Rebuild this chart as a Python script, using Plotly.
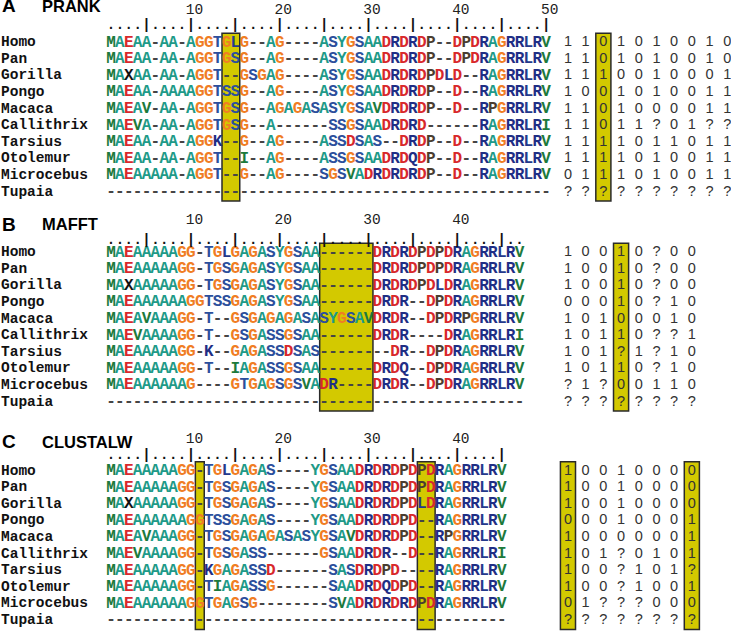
import plotly.graph_objects as go

# ---------------- data ----------------
species = ["Homo", "Pan", "Gorilla", "Pongo", "Macaca", "Callithrix",
           "Tarsius", "Otolemur", "Microcebus", "Tupaia"]

prank_seqs = [
    "MAEAA-AA-AGGTGLG--AG----ASYGSAADRDRDP--DPDRAGRRLRV",
    "MAEAA-AA-AGGTGSG--AG----ASYGSAADRDRDP--DPDRAGRRLRV",
    "MAXAA-AA-AGGT--GSGAG----ASYGSAADRDRDPDLD--RAGRRLRV",
    "MAEAA-AAAAGGTSSG--AG----ASYGSAADRDRDP--D--RAGRRLRV",
    "MAEAV-AA-AGGTGSG--AGAGASASYGSAVDRDRDP--D--RPGRRLRV",
    "MAEVA-AA-AGGTGSG--A------SSGSAADRDRD------RAGRRLRI",
    "MAEAA-AA-AGGK--G--AG----ASSDSAS--DRDP--D--RAGRRLRV",
    "MAEAA-AA-AGGT--I--AG----ASSGSAADRDQDP--D--RAGRRLRV",
    "MAEAAAAA-AGGT--G--AG----SGSVADRDRDRDP--D--RAGRRLRV",
    "-" * 50,
]
prank_bits = ["1101010010", "1101010010", "1110010001", "1001010011",
              "1101000011", "11011?01??", "1111011011", "1111010011",
              "0111010011", "??????????"]

mafft_seqs = [
    "MAEAAAAAGG-TGLGAGASYGSAA------DRDRDPDPDRAGRRLRV",
    "MAEAAAAAGG-TGSGAGASYGSAA------DRDRDPDPDRAGRRLRV",
    "MAXAAAAAGG-TGSGAGASYGSAA------DRDRDPDLDRAGRRLRV",
    "MAEAAAAAAGGTSSGAGASYGSAA------DRDR--DPDRAGRRLRV",
    "MAEAVAAAGG-T--GSGAGAGASASYGSAVDRDR--DPDRPGRRLRV",
    "MAEVAAAAGG-T--GSGASSGSAA------DRDR----DRAGRRLRI",
    "MAEAAAAAGG-K--GAGASSDSAS--------DR--DPDRAGRRLRV",
    "MAEAAAAAGG-T--IAGASSGSAA------DRDQ--DPDRAGRRLRV",
    "MAEAAAAAAG----GTGAGSGSVADR----DRDR--DPDRAGRRLRV",
    "-" * 47,
]
mafft_bits = ["10010?00", "10010?00", "10010?00", "00010?10",
              "10100010", "10110??1", "101?1?10", "10110?10",
              "?1?00110", "????????"]

clustal_seqs = [
    "MAEAAAAAGG-TGLGAGAS----YGSAADRDRDPDPDRAGRRLRV",
    "MAEAAAAAGG-TGSGAGAS----YGSAADRDRDPDPDRAGRRLRV",
    "MAXAAAAAGG-TGSGAGAS----YGSAADRDRDPDLDRAGRRLRV",
    "MAEAAAAAAGGTSSGAGAS----YGSAADRDRDPD--RAGRRLRV",
    "MAEAVAAAGG-TGSGAGAGASASYGSAVDRDRDPD--RPGRRLRV",
    "MAEVAAAAGG-TGSGASS------GSAADRDR--D--RAGRRLRI",
    "MAEAAAAAGG-KGAGASSD------SASDRDPD----RAGRRLRV",
    "MAEAAAAAGG-TIAGASSG------SAADRDQDPD--RAGRRLRV",
    "MAEAAAAAAGGTGAGSG--------SVADRDRDRDPDRAGRRLRV",
    "-" * 45,
]
clustal_bits = ["10010000", "10010000", "10010000", "00010001",
                "10000001", "101?0101", "100?101?", "100?1001",
                "01???000", "????????"]

panel_letters = ["A", "B", "C"]
method_names = ["PRANK", "MAFFT", "CLUSTALW"]
ruler_lengths = [50, 47, 45]
seq_highlights = [[(14, 15)], [(25, 30)], [(11, 11), (36, 37)]]
bit_highlights = [[3], [4], [1, 8]]

# ---------------- layout constants ----------------
W, H = 731, 631
PX_COL = 8.88          # pixels per alignment column
COL1_PX = 111.0        # pixel x of column 1
ROW_H = 16.6
BIN_X0 = 52.46         # column units of first binary digit
BIN_STEP = 1.993
panel_row0 = [42.5, 252.5, 471.0]
panel_ruler = [25.5, 240.0, 455.0]
panel_ticklab = [10.5, 220.0, 439.0]
panel_title = [7.5, 226.0, 443.5]

x_min = 1 - COL1_PX / PX_COL
x_max = x_min + W / PX_COL


def px_to_col(px):
    return x_min + px / PX_COL


COLORS = {
    'M': '#1d7a3c', 'V': '#1d7a3c', 'I': '#1d7a3c',
    'L': '#24398c',
    'A': '#1e9a88', 'Y': '#1e9a88',
    'E': '#d8282b', 'D': '#d8282b',
    'G': '#f07d24',
    'S': '#2c4f9c', 'T': '#2c4f9c', 'R': '#1f2e85', 'K': '#1f2e85', 'Q': '#1f2e85',
    'P': '#4a3d30', 'X': '#111111', '-': '#454545',
}
HL_FILL = '#d3c900'
HL_LINE = '#2a2a2a'
MONO = "Courier New, Nimbus Mono PS, Liberation Mono, monospace"
SANS = "Liberation Sans, Arial, sans-serif"

fig = go.Figure()
shapes = []

all_seqs = [prank_seqs, mafft_seqs, clustal_seqs]
all_bits = [prank_bits, mafft_bits, clustal_bits]

by_color = {}
bit_x, bit_y, bit_t = [], [], []
name_x, name_y, name_t = [], [], []
rul_x, rul_y, rul_t = [], [], []
tl_x, tl_y, tl_t = [], [], []

for p in range(3):
    seqs = all_seqs[p]
    bits = all_bits[p]
    y0 = panel_row0[p]
    nrows = len(seqs)
    for r, seq in enumerate(seqs):
        yy = y0 + r * ROW_H
        for c, ch in enumerate(seq, start=1):
            col = COLORS.get(ch, '#222222')
            d = by_color.setdefault(col, ([], [], []))
            d[0].append(c); d[1].append(yy); d[2].append(ch)
        for j, b in enumerate(bits[r]):
            bit_x.append(BIN_X0 + j * BIN_STEP); bit_y.append(yy); bit_t.append(b)
        name_x.append(px_to_col(1)); name_y.append(yy); name_t.append(species[r])
    # ruler
    for c in range(1, ruler_lengths[p] + 1):
        rul_x.append(c); rul_y.append(panel_ruler[p])
        rul_t.append('|' if c % 5 == 0 else '.')
    for c in range(10, ruler_lengths[p] + 1, 10):
        tl_x.append(c + 0.4); tl_y.append(panel_ticklab[p]); tl_t.append(str(c))
    # highlight boxes
    top = y0 - 0.55 * ROW_H
    bot = y0 + (nrows - 1) * ROW_H + 0.55 * ROW_H
    for (a, b) in seq_highlights[p]:
        shapes.append(dict(type='rect', xref='x', yref='y', x0=a - 0.5, x1=b + 0.5,
                           y0=top, y1=bot, fillcolor=HL_FILL,
                           line=dict(color=HL_LINE, width=1.5), layer='below'))
    for k in bit_highlights[p]:
        cx = BIN_X0 + (k - 1) * BIN_STEP
        shapes.append(dict(type='rect', xref='x', yref='y', x0=cx - 0.85, x1=cx + 0.85,
                           y0=top, y1=bot, fillcolor=HL_FILL,
                           line=dict(color=HL_LINE, width=1.5), layer='below'))

for col, (xs, ys, ts) in by_color.items():
    fig.add_trace(go.Scatter(x=xs, y=ys, text=ts, mode='text',
                             textposition='middle center', cliponaxis=False,
                             textfont=dict(family=MONO, size=16, color=col, weight='bold'),
                             hoverinfo='skip', showlegend=False))

fig.add_trace(go.Scatter(x=name_x, y=name_y, text=name_t, mode='text',
                         textposition='middle right', cliponaxis=False,
                         textfont=dict(family=MONO, size=14.5, color='#111111', weight='bold'),
                         hoverinfo='skip', showlegend=False))
fig.add_trace(go.Scatter(x=bit_x, y=bit_y, text=bit_t, mode='text',
                         textposition='middle center', cliponaxis=False,
                         textfont=dict(family=SANS, size=14.5, color='#333333'),
                         hoverinfo='skip', showlegend=False))
fig.add_trace(go.Scatter(x=rul_x, y=rul_y, text=rul_t, mode='text',
                         textposition='middle center', cliponaxis=False,
                         textfont=dict(family=MONO, size=14, color='#111111', weight='bold'),
                         hoverinfo='skip', showlegend=False))
fig.add_trace(go.Scatter(x=tl_x, y=tl_y, text=tl_t, mode='text',
                         textposition='middle center', cliponaxis=False,
                         textfont=dict(family=MONO, size=14.5, color='#222222'),
                         hoverinfo='skip', showlegend=False))
# titles
fig.add_trace(go.Scatter(x=[px_to_col(2)] * 3, y=panel_title, text=panel_letters, mode='text',
                         textposition='middle right', cliponaxis=False,
                         textfont=dict(family=SANS, size=19, color='#000000', weight='bold'),
                         hoverinfo='skip', showlegend=False))
fig.add_trace(go.Scatter(x=[px_to_col(42)] * 3, y=panel_title, text=method_names, mode='text',
                         textposition='middle right', cliponaxis=False,
                         textfont=dict(family=SANS, size=16.5, color='#000000', weight='bold'),
                         hoverinfo='skip', showlegend=False))

fig.update_layout(
    width=W, height=H, autosize=False,
    margin=dict(l=0, r=0, t=0, b=0, pad=0),
    paper_bgcolor='white', plot_bgcolor='white',
    shapes=shapes, hovermode=False,
    xaxis=dict(range=[x_min, x_max], visible=False, fixedrange=True),
    yaxis=dict(range=[H, 0], visible=False, fixedrange=True),
)
fig.write_html("out.html", config={"displayModeBar": False},
               post_script="document.body.style.margin='0px';"
                           "document.body.style.overflow='hidden';")
